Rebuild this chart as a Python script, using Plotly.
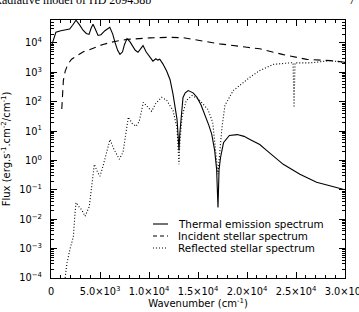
import plotly.graph_objects as go

# ---- data ----
thermal_x = [100, 300, 500, 1000, 1500, 1900, 2200, 2550, 2900, 3270, 3600, 3880, 4100, 4290, 4550,
             4800, 5100, 5500, 6000, 6300, 6530, 6800, 7040, 7300, 7500, 7760, 8050, 8300, 8600, 8880,
             9150, 9390, 9700, 10100, 10400, 10700, 10900, 11100, 11430, 11800, 12150, 12450, 12700,
             12860, 12980, 13060, 13140, 13370, 13470, 13700, 14000, 14500, 14900, 15300, 15700, 16100,
             16400, 16700, 16900, 17040, 17150, 17300, 17600, 18200, 19000, 19700, 20300, 21300, 22000,
             23700, 25400, 27100, 29800]
thermal_y = [8.9e3, 1.6e4, 2.3e4, 2.6e4, 2.8e4, 2.95e4, 4.0e4, 5.9e4, 4.2e4, 2.7e4, 2.1e4, 1.95e4,
             3.2e4, 4.3e4, 2.8e4, 1.8e4, 1.9e4, 2.6e4, 3.4e4, 2.0e4, 1.05e4, 5.6e3, 4.1e3, 5.0e3,
             8.9e3, 1.4e4, 1.1e4, 7.9e3, 5.6e3, 4.8e3, 6.6e3, 8.1e3, 5.0e3, 3.2e3, 2.4e3, 2.9e3,
             2.6e3, 2.8e3, 1.9e3, 1.1e3, 5.6e2, 1.8e2, 6.3e1, 2.5e1, 6.3, 2.2, 8.0, 5.0e1, 1.4e2,
             2.0e2, 2.4e2, 2.0e2, 1.4e2, 7.9e1, 3.7e1, 1.6e1, 7.9, 2.2, 0.5, 0.025, 0.5, 1.26, 4.0,
             7.1, 7.6, 6.6, 5.2, 3.5, 2.2, 0.74, 0.34, 0.18, 0.105]

incident_x = [1100, 1150, 1260, 1450, 1730, 2100, 2650, 3300, 3980, 5300, 6500, 7760, 10100, 12100,
              13500, 14500, 17200, 20000, 21300, 23700, 26100, 28500, 30000]
incident_y = [56, 160, 520, 1.1e3, 1.9e3, 2.8e3, 3.7e3, 5.0e3, 6.0e3, 8.9e3, 1.12e4, 1.32e4, 1.48e4,
              1.55e4, 1.5e4, 1.3e4, 9.3e3, 7.1e3, 6.3e3, 4.0e3, 2.75e3, 2.5e3, 2.2e3]

reflected_x = [1400, 1630, 1950, 2280, 2450, 2550, 2800, 3130, 3470, 3910, 4150, 4420, 4750, 5000,
               5300, 5700, 6020, 6400, 6970, 7350, 7890, 8300, 8670, 9000, 9420, 9800, 10270, 10700,
               11300, 11800, 12450, 12860, 13000, 13060, 13150, 13370, 13800, 14400, 15100, 16000,
               16500, 16800, 17040, 17250, 17450, 17750, 18600, 20300, 21300, 22700, 24700, 24800,
               24900, 26500, 28500, 30000]
reflected_y = [8e-5, 3.2e-4, 1e-3, 2.5e-3, 1.6e-2, 3.7e-2, 2.8e-2, 2.1e-2, 1.26e-2, 2.7e-2, 0.13,
               0.74, 0.4, 0.29, 0.63, 2.0, 5.2, 2.5, 1.1, 1.9, 30, 18, 14.5, 21, 95, 70, 47, 89,
               141, 112, 50, 12.6, 2.5, 0.74, 4.0, 30, 110, 162, 120, 55, 20, 2.5, 0.34, 2.5, 13.5,
               76, 240, 676, 1.15e3, 1.86e3, 2.14e3, 63, 2.1e3, 2.1e3, 2.5e3, 2.15e3]

x_tickvals = [0, 5000, 10000, 15000, 20000, 25000, 30000]
x_ticktext = ["0", "5.0×10<sup>3</sup>", "1.0×10<sup>4</sup>", "1.5×10<sup>4</sup>",
              "2.0×10<sup>4</sup>", "2.5×10<sup>4</sup>", "3.0×10<sup>4</sup>"]
y_exponents = [-4, -3, -2, -1, 0, 1, 2, 3, 4]
y_tickvals = [10.0 ** e for e in y_exponents]
y_ticktext = ["10<sup>%s</sup>" % (str(e).replace("-", "−")) for e in y_exponents]
y_minor = [k * 10.0 ** e for e in y_exponents for k in range(2, 10)]
x_minor = [v for v in range(0, 30001, 1000) if v % 5000 != 0]

legend_names = ["Thermal emission spectrum", "Incident stellar spectrum", "Reflected stellar spectrum"]

FONT = "DejaVu Sans"
W, H = 359, 312
L, R, T, B = 51, 14, 20, 34

fig = go.Figure()
fig.add_trace(go.Scatter(x=thermal_x, y=thermal_y, mode="lines",
                         line=dict(color="black", width=1.1), name=legend_names[0]))
fig.add_trace(go.Scatter(x=incident_x, y=incident_y, mode="lines",
                         line=dict(color="black", width=1.1, dash="7px,5px"), name=legend_names[1]))
fig.add_trace(go.Scatter(x=reflected_x, y=reflected_y, mode="lines",
                         line=dict(color="black", width=1.1, dash="1px,2px"), name=legend_names[2]))

pw, ph = W - L - R, H - T - B


def px_x(p):
    return (p - L) / pw


def px_y(p):
    return (H - B - p) / ph


# manual legend
dashes = ["solid", "4px,3px", "1px,2px"]
rows = [224, 236, 248]
for name, d, yy in zip(legend_names, dashes, rows):
    fig.add_shape(type="line", xref="paper", yref="paper",
                  x0=px_x(153), x1=px_x(168), y0=px_y(yy), y1=px_y(yy),
                  line=dict(color="black", width=1.1, dash=d))
    fig.add_annotation(xref="paper", yref="paper", x=px_x(176), y=px_y(yy),
                       text=name, showarrow=False, xanchor="left", yanchor="middle",
                       font=dict(family=FONT, size=10.4, color="black"))

# page header (cropped)
fig.add_annotation(xref="paper", yref="paper", x=px_x(-8), y=px_y(0), text="Radiative model of HD 209458b",
                   showarrow=False, xanchor="left", yanchor="middle",
                   font=dict(family="Liberation Serif", size=12, color="black"))
fig.add_annotation(xref="paper", yref="paper", x=px_x(357), y=px_y(0), text="7",
                   showarrow=False, xanchor="right", yanchor="middle",
                   font=dict(family="Liberation Serif", size=12, color="black"))

axis_common = dict(showgrid=False, zeroline=False, showline=True, linecolor="black", linewidth=1.2,
                   mirror="allticks", ticks="inside", ticklen=6, tickwidth=1, tickcolor="black",
                   ticklabeloverflow="allow",
                   tickfont=dict(family=FONT, size=9.8, color="black"))

fig.update_xaxes(range=[0, 30000], tickmode="array", tickvals=x_tickvals, ticktext=x_ticktext,
                 minor=dict(tickmode="array", tickvals=x_minor, ticks="inside", ticklen=3,
                            tickcolor="black", showgrid=False),
                 title=dict(text="Wavenumber (cm<sup>-1</sup>)", font=dict(family=FONT, size=10, color="black"),
                            standoff=4),
                 ticklabelstandoff=4, **axis_common)
fig.update_yaxes(type="log", range=[-4, 4.78], tickmode="array", tickvals=y_tickvals, ticktext=y_ticktext,
                 minor=dict(tickmode="array", tickvals=y_minor, ticks="inside", ticklen=3,
                            tickcolor="black", showgrid=False),
                 title=dict(text="Flux (erg.s<sup>-1</sup>.cm<sup>-2</sup>/cm<sup>-1</sup>)",
                            font=dict(family=FONT, size=10, color="black"), standoff=6),
                 ticklabelstandoff=6, **axis_common)

fig.update_layout(width=W, height=H, margin=dict(l=L, r=R, t=T, b=B, autoexpand=False),
                  paper_bgcolor="white", plot_bgcolor="white", showlegend=False)

fig.write_html("out.html")
